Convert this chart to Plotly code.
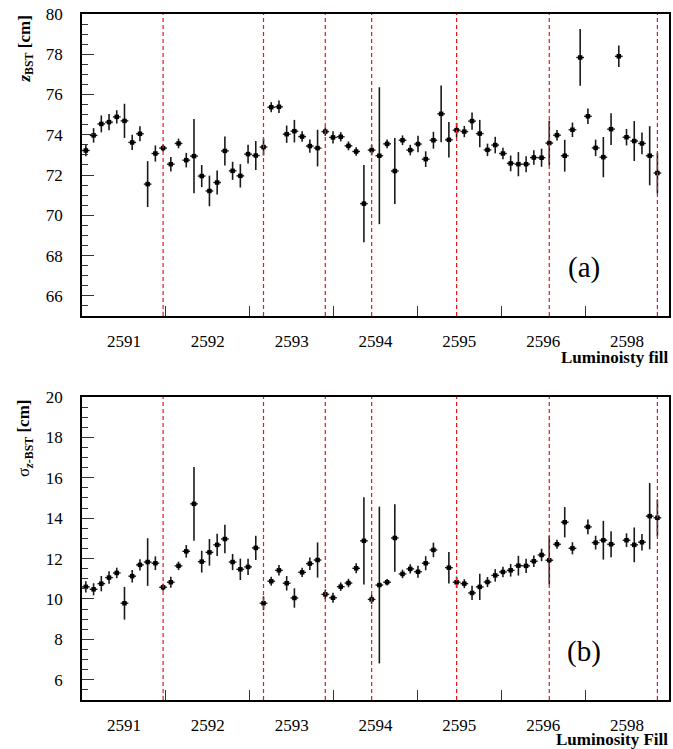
import numpy as np
import plotly.graph_objects as go
from plotly.subplots import make_subplots

# ---------------- data ----------------
fill_labels = ["2591", "2592", "2593", "2594", "2595", "2596", "2598"]
n_bins = 76
# run index of the first run of each new fill (red dashed separators)
fill_boundary_runs = [10, 23, 31, 37, 48, 60, 74]

z_bst = [73.22, 73.97, 74.54, 74.63, 74.89, 74.69, 73.62, 74.05, 71.55, 73.07,
         73.34, 72.54, 73.57, 72.74, 72.94, 71.95, 71.21, 71.63, 73.20, 72.21,
         71.96, 73.04, 72.97, 73.39, 75.37, 75.39, 74.03, 74.18, 73.91, 73.44,
         73.34, 74.16, 73.87, 73.90, 73.45, 73.17, 70.58, 73.24, 72.96, 73.55,
         72.20, 73.73, 73.24, 73.54, 72.79, 73.73, 75.04, 73.75, 74.23, 74.16,
         74.68, 74.06, 73.25, 73.49, 73.07, 72.58, 72.54, 72.54, 72.87, 72.86,
         73.59, 73.98, 72.96, 74.25, 77.84, 74.92, 73.35, 72.89, 74.28, 77.90,
         73.88, 73.69, 73.57, 72.96, 72.10]
z_bst_err = [0.29, 0.36, 0.42, 0.40, 0.33, 0.85, 0.38, 0.37, 1.14, 0.40,
             0.17, 0.36, 0.24, 0.36, 1.84, 0.55, 0.76, 0.60, 0.72, 0.45,
             0.58, 0.46, 0.72, 0.42, 0.25, 0.31, 0.43, 0.56, 0.26, 0.33,
             0.91, 0.21, 0.30, 0.23, 0.22, 0.21, 1.92, 0.26, 3.40, 0.22,
             1.64, 0.24, 0.26, 0.41, 0.39, 0.42, 1.41, 0.88, 0.36, 0.28,
             0.43, 0.68, 0.31, 0.41, 0.29, 0.39, 0.60, 0.40, 0.36, 0.45,
             1.11, 0.26, 0.79, 0.36, 1.41, 0.38, 0.41, 1.00, 0.79, 0.53,
             0.41, 0.99, 0.54, 1.47, 1.01]

sigma_z = [10.60, 10.48, 10.76, 11.06, 11.29, 9.79, 11.13, 11.69, 11.83, 11.77,
           10.58, 10.83, 11.64, 12.36, 14.71, 11.85, 12.31, 12.68, 12.97, 11.83,
           11.47, 11.59, 12.53, 9.79, 10.88, 11.42, 10.78, 10.05, 11.32, 11.75,
           11.93, 10.23, 10.06, 10.61, 10.79, 11.52, 12.88, 9.98, 10.69, 10.83,
           13.02, 11.24, 11.49, 11.35, 11.77, 12.43, None, 11.55, 10.83, 10.76,
           10.30, 10.60, 10.84, 11.17, 11.34, 11.42, 11.65, 11.64, 11.87, 12.18,
           11.92, 12.71, 13.80, 12.51, None, 13.57, 12.79, 12.91, 12.71, None,
           12.91, 12.68, 12.81, 14.10, 14.02]
sigma_z_err = [0.28, 0.30, 0.38, 0.31, 0.26, 0.81, 0.31, 0.28, 1.18, 0.34,
               0.17, 0.27, 0.21, 0.31, 1.83, 0.54, 0.66, 0.55, 0.71, 0.40,
               0.53, 0.40, 0.60, 0.34, 0.22, 0.26, 0.36, 0.48, 0.23, 0.31,
               0.87, 0.24, 0.25, 0.21, 0.21, 0.25, 2.16, 0.22, 3.88, 0.16,
               1.67, 0.21, 0.23, 0.30, 0.35, 0.36, None, 0.78, 0.28, 0.22,
               0.35, 0.65, 0.25, 0.31, 0.26, 0.31, 0.49, 0.35, 0.28, 0.31,
               1.20, 0.22, 0.75, 0.30, None, 0.36, 0.34, 0.96, 0.64, None,
               0.34, 0.86, 0.41, 1.64, 0.91]

# ---------------- figure ----------------
run_x = np.arange(len(z_bst)) + 0.5
n_fill = len(fill_labels)
label_pos = [(k + 0.5) * n_bins / n_fill for k in range(n_fill)]
tick_pos = [k * n_bins / n_fill for k in range(1, n_fill)]

SERIF = "Liberation Serif"
fig = make_subplots(rows=2, cols=1, vertical_spacing=0.1181)
fig.update_yaxes(domain=[0.5598, 1.0], row=1, col=1)
fig.update_yaxes(domain=[0.0, 0.4417], row=2, col=1)

def add_series(y, err, row):
    fig.add_trace(go.Scatter(
        x=run_x, y=y, mode="markers",
        marker=dict(symbol="square", size=4.5, color="black"),
        error_y=dict(type="data", array=err, visible=True, color="#1a1a1a",
                     thickness=1.6, width=0),
        error_x=dict(type="constant", value=0.5, visible=True, color="#1a1a1a",
                     thickness=1.4, width=0),
        showlegend=False, cliponaxis=True), row=row, col=1)

add_series(z_bst, z_bst_err, 1)
add_series(sigma_z, sigma_z_err, 2)

for row in (1, 2):
    fig.update_xaxes(
        range=[0, n_bins], tickmode="array", tickvals=label_pos, ticktext=fill_labels,
        ticks="", showgrid=False, zeroline=False, showline=True, mirror=True,
        linecolor="black", linewidth=1.5,
        tickfont=dict(family=SERIF, size=17, color="black"),
        ticklabelstandoff=9,
        minor=dict(tickmode="array", tickvals=tick_pos, ticks="inside", ticklen=10,
                   tickwidth=1.3, tickcolor="#333", showgrid=False),
        row=row, col=1)

yranges = {1: [65, 80], 2: [5, 20]}
for row in (1, 2):
    fig.update_yaxes(
        range=yranges[row], dtick=2, tick0=0, ticks="inside", ticklen=12,
        tickwidth=1.3, tickcolor="#333", showgrid=False, zeroline=False,
        showline=True, mirror=True, linecolor="black", linewidth=1.5,
        tickfont=dict(family=SERIF, size=17, color="black"),
        ticklabelstandoff=14,
        minor=dict(dtick=0.5, ticks="inside", ticklen=6, tickwidth=1.1,
                   tickcolor="#333", showgrid=False),
        row=row, col=1)

# fill separators
for row, xref, yref in ((1, "x", "y domain"), (2, "x2", "y2 domain")):
    for b in fill_boundary_runs:
        fig.add_shape(type="line", xref=xref, yref=yref, x0=b + 0.5, x1=b + 0.5,
                      y0=0, y1=1, line=dict(color="#e8161b", width=1.2, dash="4px,3px"),
                      layer="above")

ann_font = dict(family=SERIF, size=17, color="black")
fig.add_annotation(xref="paper", yref="paper", x=1.002, y=0.500, xanchor="right",
                   yanchor="middle", text="<b>Luminoisty fill</b>", showarrow=False,
                   font=ann_font)
fig.add_annotation(xref="paper", yref="paper", x=1.002, y=-0.057, xanchor="right",
                   yanchor="middle", text="<b>Luminosity Fill</b>", showarrow=False,
                   font=ann_font)
fig.add_annotation(xref="paper", yref="paper", x=-0.097, y=1.0, xanchor="center",
                   yanchor="top", textangle=-90,
                   text="<b><i>z</i><sub>BST</sub> [cm]</b>", showarrow=False,
                   font=ann_font)
fig.add_annotation(xref="paper", yref="paper", x=-0.097, y=0.4417, xanchor="center",
                   yanchor="top", textangle=-90,
                   text="σ<sub><b><i>z</i>-BST</b></sub> <b>[cm]</b>", showarrow=False,
                   font=ann_font)
fig.add_annotation(xref="x", yref="y domain", x=65.0, y=0.16, xanchor="center",
                   yanchor="middle", text="(a)", showarrow=False,
                   font=dict(family=SERIF, size=29, color="black"))
fig.add_annotation(xref="x2", yref="y2 domain", x=65.0, y=0.16, xanchor="center",
                   yanchor="middle", text="(b)", showarrow=False,
                   font=dict(family=SERIF, size=29, color="black"))

fig.update_layout(width=673, height=749, margin=dict(l=82, r=2, t=14, b=49),
                  paper_bgcolor="white", plot_bgcolor="white", showlegend=False)

# remove the default 8px page margin so the figure sits at the window origin
fig.write_html("out.html", config={"displayModeBar": False},
               post_script="document.body.style.margin='0';"
                           "document.body.style.overflow='hidden';")
